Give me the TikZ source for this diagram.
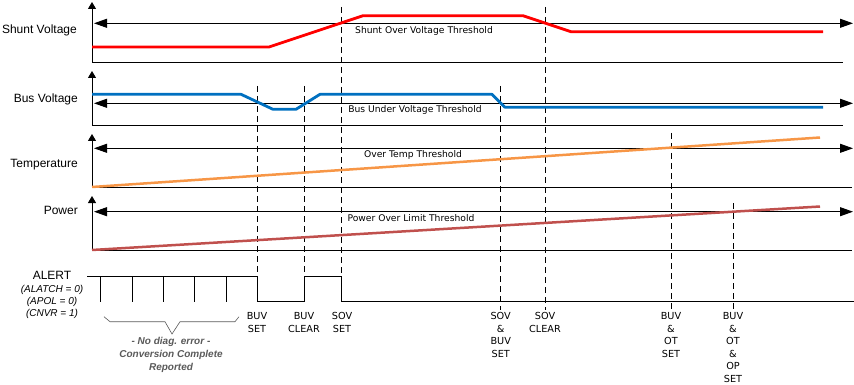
\documentclass[tikz,border=0pt]{standalone}
\usepackage{fontspec}
\setmainfont{Liberation Sans}
\newfontfamily\lblfont{DejaVu Sans}
\usetikzlibrary{arrows.meta}
\definecolor{svred}{HTML}{FF0000}
\definecolor{bvblue}{HTML}{0070C0}
\definecolor{torange}{HTML}{F79646}
\definecolor{pwred}{HTML}{C0504D}
\definecolor{bracegray}{HTML}{5A5A5A}
\begin{document}
\begin{tikzpicture}[x=1pt,y=-1pt,
  baseln/.style={line width=0.9pt},
  thrline/.style={line width=0.9pt,{Triangle[length=13pt,width=9pt]}-{Triangle[length=13pt,width=9pt]}},
  upaxis/.style={line width=1pt,-{Triangle[length=7pt,width=8pt]}},
  sig/.style={line width=2.8pt,line join=round},
  evline/.style={line width=0.8pt,dash pattern=on 6pt off 4pt},
  panellbl/.style={anchor=east,font=\fontsize{12}{14}\selectfont,inner sep=0},
  thrlbl/.style={font=\lblfont\fontsize{9.2}{11}\selectfont,inner sep=0},
  evlbl/.style={anchor=north,align=center,font=\lblfont\fontsize{9.7}{12.5}\selectfont,inner sep=0},
  alertln/.style={line width=0.9pt},
]
\useasboundingbox (0,0) rectangle (854,385);

% ---------- coordinates ----------
% shunt panel
\coordinate (s0) at (92,62);   \coordinate (stop) at (92,2);
\coordinate (sb) at (843,62);
\coordinate (sl) at (94,23.3); \coordinate (sr) at (853,23.3);
% bus panel
\coordinate (b0) at (92,125);  \coordinate (btop) at (92,71);
\coordinate (bb) at (843,125);
\coordinate (bl) at (94,103.3); \coordinate (br) at (853,103.3);
% temperature panel
\coordinate (t0) at (92,187);  \coordinate (ttop) at (92,134);
\coordinate (tb) at (852,187);
\coordinate (tl) at (94,148.3); \coordinate (tr) at (853,148.3);
% power panel
\coordinate (p0) at (92,250);  \coordinate (ptop) at (92,196);
\coordinate (pb) at (852,250);
\coordinate (pl) at (94,211.7); \coordinate (pr) at (853,211.7);

% ---------- event dashed lines ----------
\coordinate (e1t) at (257,86);   \coordinate (e1b) at (257,276.7);
\coordinate (e2t) at (304,86);   \coordinate (e2b) at (304,276.7);
\coordinate (e3t) at (341,7);    \coordinate (e3b) at (341,276.7);
\coordinate (e4t) at (500.7,86); \coordinate (e4b) at (500.7,310);
\coordinate (e5t) at (545,7);    \coordinate (e5b) at (545,310);
\coordinate (e6t) at (671,133);  \coordinate (e6b) at (671,310);
\coordinate (e7t) at (733,203);  \coordinate (e7b) at (733,310);
\foreach \i in {1,...,7} \draw[evline] (e\i t) -- (e\i b);

% ---------- axes ----------
\draw[upaxis] (s0) -- (stop);
\draw[baseln] (s0) -- (sb);
\draw[thrline] (sl) -- (sr);
\draw[upaxis] (b0) -- (btop);
\draw[baseln] (b0) -- (bb);
\draw[thrline] (bl) -- (br);
\draw[upaxis] (t0) -- (ttop);
\draw[baseln] (t0) -- (tb);
\draw[thrline] (tl) -- (tr);
\draw[upaxis] (p0) -- (ptop);
\draw[baseln] (p0) -- (pb);
\draw[thrline] (pl) -- (pr);

% ---------- signals ----------
\draw[sig,svred] (92,47) -- (269,47) -- (363,15.7) -- (523,15.7) -- (571,31.7) -- (823,31.7);
\draw[sig,bvblue] (92,94.3) -- (241,94.3) -- (273,109.3) -- (296,109.3) -- (320,94.3) -- (492,94.3) -- (505,107.3) -- (823,107.3);
\draw[sig,torange,line width=2.5pt] (92,187) -- (820,137.5);
\draw[sig,pwred,line width=2.5pt] (92,250) -- (820,206.5);

% ---------- panel labels ----------
\node[panellbl] (lshunt) at (77,30) {Shunt Voltage};
\node[panellbl] (lbus) at (78,99) {Bus Voltage};
\node[panellbl] (ltemp) at (78,165) {Temperature};
\node[panellbl] (lpow) at (78,210) {Power};

% ---------- threshold labels ----------
\node[thrlbl] (tsov) at (424,31) {Shunt Over Voltage Threshold};
\node[thrlbl] (tbuv) at (415,110) {Bus Under Voltage Threshold};
\node[thrlbl] (tot) at (413,155) {Over Temp Threshold};
\node[thrlbl] (top) at (411,217.7) {Power Over Limit Threshold};

% ---------- ALERT ----------
\node[inner sep=0,font=\fontsize{12}{14}\selectfont] (alert) at (52,275) {ALERT};
\node[anchor=north,align=center,inner sep=0,font=\itshape\fontsize{10}{12}\selectfont] (acfg) at (52,285) {(ALATCH = 0)\\(APOL = 0)\\(CNVR = 1)};
\draw[alertln] (87,276.7) -- (257,276.7) -- (257,301.7) -- (304,301.7) -- (304,276.7) -- (341,276.7) -- (341,301.7) -- (854,301.7);
\foreach \x in {100,132,163,194,226} \draw[alertln] (\x,276.7) -- (\x,301.7);

% brace
\draw[bracegray,line width=0.6pt] (104,316.7) -- (110,321.7) -- (165,321.7) -- (172,334) -- (180,321.7) -- (235,321.7) -- (239,316.7);
\node[anchor=north,align=center,inner sep=0,text=bracegray,font=\bfseries\itshape\fontsize{10}{12.8}\selectfont] (cc) at (171,337.5) {- No diag. error -\\Conversion Complete\\Reported};

% ---------- event labels ----------
\node[evlbl] (ev1) at (257,312.5) {BUV\\SET};
\node[evlbl] (ev2) at (304,312.5) {BUV\\CLEAR};
\node[evlbl] (ev3) at (342,312.5) {SOV\\SET};
\node[evlbl] (ev4) at (500.7,312.5) {SOV\\\&\\BUV\\SET};
\node[evlbl] (ev5) at (545,312.5) {SOV\\CLEAR};
\node[evlbl] (ev6) at (671,312.5) {BUV\\\&\\OT\\SET};
\node[evlbl] (ev7) at (733,312.5) {BUV\\\&\\OT\\\&\\OP\\SET};
\end{tikzpicture}
\end{document}
